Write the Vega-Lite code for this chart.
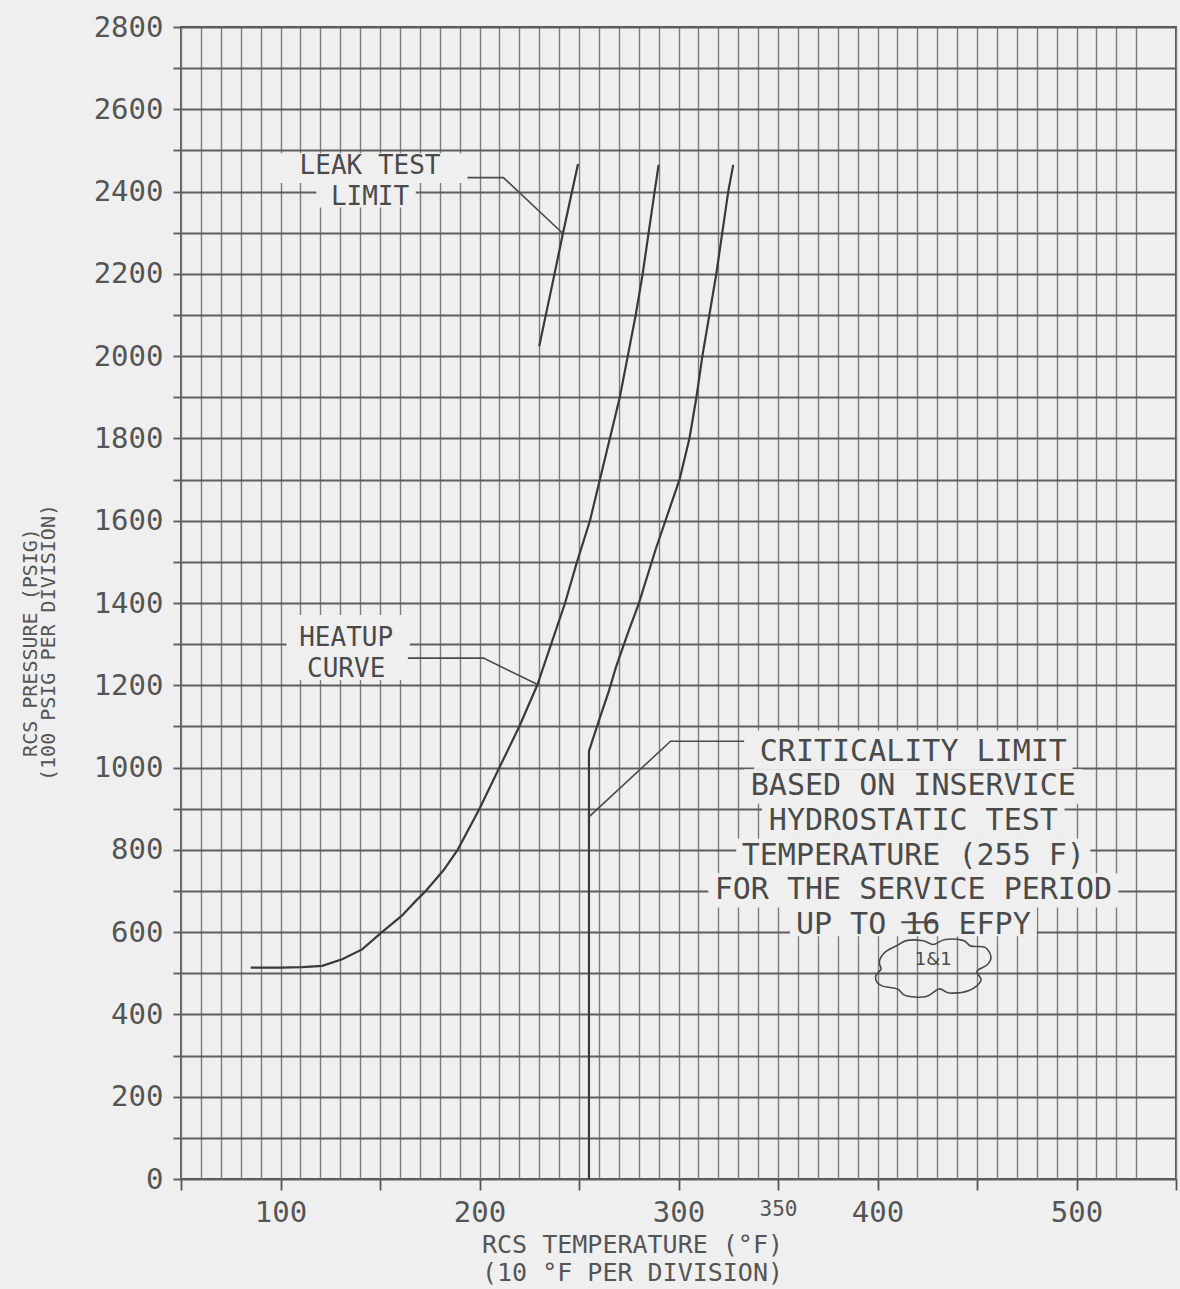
{
  "$schema": "https://vega.github.io/schema/vega-lite/v6.json",
  "width": 995,
  "height": 1152,
  "autosize": {"type": "none"},
  "padding": {"left": 181, "top": 27, "right": 4, "bottom": 110},
  "background": "#efefef",
  "config": {"view": {"stroke": "#555555", "strokeWidth": 2}},
  "datasets": {
    "boxes": [
      {"T1": 98, "T2": 192, "P1": 2421, "P2": 2493},
      {"T1": 118, "T2": 168, "P1": 2361, "P2": 2421},
      {"T1": 103, "T2": 165, "P1": 1213, "P2": 1371},
      {"T1": 338, "T2": 498, "P1": 996, "P2": 1090},
      {"T1": 333, "T2": 503, "P1": 912, "P2": 996},
      {"T1": 342, "T2": 494, "P1": 827, "P2": 912},
      {"T1": 329, "T2": 507, "P1": 743, "P2": 827},
      {"T1": 315, "T2": 521, "P1": 660, "P2": 743},
      {"T1": 356, "T2": 480, "P1": 590, "P2": 660}
    ],
    "curves": [
      {"s": "heatup", "i": 0, "T": 85, "P": 514},
      {"s": "heatup", "i": 1, "T": 100, "P": 514},
      {"s": "heatup", "i": 2, "T": 111, "P": 515},
      {"s": "heatup", "i": 3, "T": 121, "P": 518},
      {"s": "heatup", "i": 4, "T": 131, "P": 534},
      {"s": "heatup", "i": 5, "T": 141, "P": 558},
      {"s": "heatup", "i": 6, "T": 151, "P": 600},
      {"s": "heatup", "i": 7, "T": 161, "P": 640},
      {"s": "heatup", "i": 8, "T": 168, "P": 676},
      {"s": "heatup", "i": 9, "T": 173, "P": 700},
      {"s": "heatup", "i": 10, "T": 182, "P": 751},
      {"s": "heatup", "i": 11, "T": 189, "P": 800},
      {"s": "heatup", "i": 12, "T": 200, "P": 900},
      {"s": "heatup", "i": 13, "T": 210, "P": 1000},
      {"s": "heatup", "i": 14, "T": 220, "P": 1100},
      {"s": "heatup", "i": 15, "T": 229, "P": 1200},
      {"s": "heatup", "i": 16, "T": 236, "P": 1300},
      {"s": "heatup", "i": 17, "T": 243, "P": 1400},
      {"s": "heatup", "i": 18, "T": 249, "P": 1500},
      {"s": "heatup", "i": 19, "T": 255.5, "P": 1600},
      {"s": "heatup", "i": 20, "T": 260.5, "P": 1700},
      {"s": "heatup", "i": 21, "T": 265.5, "P": 1800},
      {"s": "heatup", "i": 22, "T": 270.5, "P": 1900},
      {"s": "heatup", "i": 23, "T": 274.5, "P": 2000},
      {"s": "heatup", "i": 24, "T": 278.5, "P": 2100},
      {"s": "heatup", "i": 25, "T": 282, "P": 2200},
      {"s": "heatup", "i": 26, "T": 285, "P": 2300},
      {"s": "heatup", "i": 27, "T": 288, "P": 2400},
      {"s": "heatup", "i": 28, "T": 290, "P": 2465},
      {"s": "crit", "i": 0, "T": 255, "P": 0},
      {"s": "crit", "i": 1, "T": 255, "P": 1040},
      {"s": "crit", "i": 2, "T": 260, "P": 1114},
      {"s": "crit", "i": 3, "T": 265, "P": 1186},
      {"s": "crit", "i": 4, "T": 268.5, "P": 1243},
      {"s": "crit", "i": 5, "T": 275, "P": 1333},
      {"s": "crit", "i": 6, "T": 280, "P": 1398},
      {"s": "crit", "i": 7, "T": 288.5, "P": 1530},
      {"s": "crit", "i": 8, "T": 300.5, "P": 1700},
      {"s": "crit", "i": 9, "T": 305.5, "P": 1800},
      {"s": "crit", "i": 10, "T": 309, "P": 1900},
      {"s": "crit", "i": 11, "T": 312, "P": 2000},
      {"s": "crit", "i": 12, "T": 315.5, "P": 2100},
      {"s": "crit", "i": 13, "T": 319, "P": 2200},
      {"s": "crit", "i": 14, "T": 322, "P": 2300},
      {"s": "crit", "i": 15, "T": 325, "P": 2400},
      {"s": "crit", "i": 16, "T": 327.5, "P": 2465},
      {"s": "leak", "i": 0, "T": 230, "P": 2024},
      {"s": "leak", "i": 1, "T": 237.7, "P": 2200},
      {"s": "leak", "i": 2, "T": 242, "P": 2300},
      {"s": "leak", "i": 3, "T": 249.5, "P": 2467}
    ],
    "leaders": [
      {"s": "leak", "i": 0, "T": 194, "P": 2434},
      {"s": "leak", "i": 1, "T": 212, "P": 2434},
      {"s": "leak", "i": 2, "T": 241.5, "P": 2300},
      {"s": "heat", "i": 0, "T": 164, "P": 1266},
      {"s": "heat", "i": 1, "T": 202, "P": 1266},
      {"s": "heat", "i": 2, "T": 230, "P": 1200},
      {"s": "crit", "i": 0, "T": 255, "P": 880},
      {"s": "crit", "i": 1, "T": 296, "P": 1064},
      {"s": "crit", "i": 2, "T": 333, "P": 1064}
    ],
    "cloud": [
      {"i": 0, "T": 402, "P": 510},
      {"i": 1, "T": 401, "P": 530},
      {"i": 2, "T": 404, "P": 552},
      {"i": 3, "T": 410, "P": 568},
      {"i": 4, "T": 415, "P": 580},
      {"i": 5, "T": 423, "P": 579},
      {"i": 6, "T": 428, "P": 570},
      {"i": 7, "T": 434, "P": 582},
      {"i": 8, "T": 443, "P": 580},
      {"i": 9, "T": 447, "P": 566},
      {"i": 10, "T": 454, "P": 563},
      {"i": 11, "T": 457, "P": 540},
      {"i": 12, "T": 455, "P": 520},
      {"i": 13, "T": 450, "P": 505},
      {"i": 14, "T": 452, "P": 482},
      {"i": 15, "T": 446, "P": 458},
      {"i": 16, "T": 436, "P": 452},
      {"i": 17, "T": 431, "P": 462},
      {"i": 18, "T": 424, "P": 443},
      {"i": 19, "T": 414, "P": 446},
      {"i": 20, "T": 410, "P": 462},
      {"i": 21, "T": 402, "P": 470},
      {"i": 22, "T": 399, "P": 490},
      {"i": 23, "T": 402, "P": 510}
    ],
    "pairs": [
      {"text": "LEAK TEST", "T": 145, "P": 2463},
      {"text": "LIMIT", "T": 145, "P": 2388},
      {"text": "HEATUP", "T": 133, "P": 1314},
      {"text": "CURVE", "T": 133, "P": 1239}
    ],
    "labels": [
      {"text": "CRITICALITY LIMIT", "T": 418, "P": 1038},
      {"text": "BASED ON INSERVICE", "T": 418, "P": 955},
      {"text": "HYDROSTATIC TEST", "T": 418, "P": 870},
      {"text": "TEMPERATURE (255 F)", "T": 418, "P": 784},
      {"text": "FOR THE SERVICE PERIOD", "T": 418, "P": 702},
      {"text": "UP TO 16 EFPY", "T": 418, "P": 618}
    ],
    "notes": [
      {"text": "1&1", "T": 428, "P": 532}
    ],
    "strike": [
      {"T1": 412, "T2": 430, "P": 624}
    ]
  },
  "layer": [
    {
      "data": {"name": "boxes"},
      "mark": {"type": "rect", "fill": "#efefef"},
      "encoding": {
        "x": {
          "field": "T1", "type": "quantitative",
          "scale": {"domain": [50, 550], "nice": false, "zero": false},
          "axis": {
            "values": [50,60,70,80,90,100,110,120,130,140,150,160,170,180,190,200,210,220,230,240,250,260,270,280,290,300,310,320,330,340,350,360,370,380,390,400,410,420,430,440,450,460,470,480,490,500,510,520,530,550],
            "tickCount": 100,
            "format": "d",
            "grid": true, "gridColor": "#7c7c7c", "gridWidth": 1.4,
            "domain": false,
            "ticks": true, "tickSize": 11, "tickWidth": 1.8,
            "tickColor": {"condition": {"test": "datum.value % 50 == 0", "value": "#555555"}, "value": "transparent"},
            "labelExpr": "indexof([100,200,300,350,400,500], datum.value) >= 0 ? datum.label : ''",
            "labelFont": "DejaVu Sans Mono",
            "labelFontSize": {"condition": {"test": "datum.value == 350", "value": 21}, "value": 29},
            "labelColor": "#555555", "labelPadding": 8, "labelAngle": 0,
            "labelOverlap": false, "labelFlush": false, "labelBound": false,
            "title": ["RCS TEMPERATURE (°F)", "(10 °F PER DIVISION)"],
            "titleFont": "DejaVu Sans Mono", "titleFontSize": 25, "titleFontWeight": "normal",
            "titleColor": "#555555", "titleX": 451, "titleY": 53, "titleAlign": "center",
            "titleBaseline": "top", "titleLineHeight": 28
          }
        },
        "x2": {"field": "T2"},
        "y": {
          "field": "P1", "type": "quantitative",
          "scale": {"domain": [0, 2800], "nice": false, "zero": false},
          "axis": {
            "values": [0,100,200,300,400,500,600,700,800,900,1000,1100,1200,1300,1400,1500,1600,1700,1800,1900,2000,2100,2200,2300,2400,2500,2600,2700,2800],
            "tickCount": 100,
            "format": "d",
            "grid": true, "gridColor": "#5e5e5e", "gridWidth": 1.9,
            "domain": false,
            "ticks": true, "tickSize": 8, "tickWidth": 1.9, "tickColor": "#5e5e5e",
            "labelExpr": "datum.value % 200 == 0 ? datum.label : ''",
            "labelFont": "DejaVu Sans Mono", "labelFontSize": 29, "labelColor": "#555555",
            "labelPadding": 10, "labelOverlap": false, "labelFlush": false, "labelBound": false,
            "title": ["RCS PRESSURE (PSIG)", "(100 PSIG PER DIVISION)"],
            "titleFont": "DejaVu Sans Mono", "titleFontSize": 20, "titleFontWeight": "normal",
            "titleColor": "#555555", "titleX": -161, "titleY": 615, "titleAngle": -90,
            "titleAlign": "center", "titleBaseline": "top", "titleLineHeight": 18
          }
        },
        "y2": {"field": "P2"}
      }
    },
    {
      "data": {"name": "curves"},
      "mark": {"type": "line", "stroke": "#3a3a3a", "strokeWidth": 2.2},
      "encoding": {
        "x": {"field": "T", "type": "quantitative"},
        "y": {"field": "P", "type": "quantitative"},
        "detail": {"field": "s"},
        "order": {"field": "i"}
      }
    },
    {
      "data": {"name": "leaders"},
      "mark": {"type": "line", "stroke": "#4a4a4a", "strokeWidth": 1.6},
      "encoding": {
        "x": {"field": "T", "type": "quantitative"},
        "y": {"field": "P", "type": "quantitative"},
        "detail": {"field": "s"},
        "order": {"field": "i"}
      }
    },
    {
      "data": {"name": "cloud"},
      "mark": {"type": "line", "stroke": "#4a4a4a", "strokeWidth": 1.6, "interpolate": "cardinal"},
      "encoding": {
        "x": {"field": "T", "type": "quantitative"},
        "y": {"field": "P", "type": "quantitative"},
        "order": {"field": "i"}
      }
    },
    {
      "data": {"name": "pairs"},
      "mark": {"type": "text", "font": "DejaVu Sans Mono", "fontSize": 26, "fill": "#4a4a4a", "align": "center", "baseline": "middle"},
      "encoding": {
        "x": {"field": "T", "type": "quantitative"},
        "y": {"field": "P", "type": "quantitative"},
        "text": {"field": "text"}
      }
    },
    {
      "data": {"name": "labels"},
      "mark": {"type": "text", "font": "DejaVu Sans Mono", "fontSize": 30, "fill": "#4a4a4a", "align": "center", "baseline": "middle"},
      "encoding": {
        "x": {"field": "T", "type": "quantitative"},
        "y": {"field": "P", "type": "quantitative"},
        "text": {"field": "text"}
      }
    },
    {
      "data": {"name": "notes"},
      "mark": {"type": "text", "font": "DejaVu Sans", "fontSize": 18, "fill": "#4a4a4a", "align": "center", "baseline": "middle"},
      "encoding": {
        "x": {"field": "T", "type": "quantitative"},
        "y": {"field": "P", "type": "quantitative"},
        "text": {"field": "text"}
      }
    },
    {
      "data": {"name": "strike"},
      "mark": {"type": "rule", "stroke": "#4a4a4a", "strokeWidth": 2},
      "encoding": {
        "x": {"field": "T1", "type": "quantitative"},
        "x2": {"field": "T2"},
        "y": {"field": "P", "type": "quantitative"}
      }
    }
  ]
}
